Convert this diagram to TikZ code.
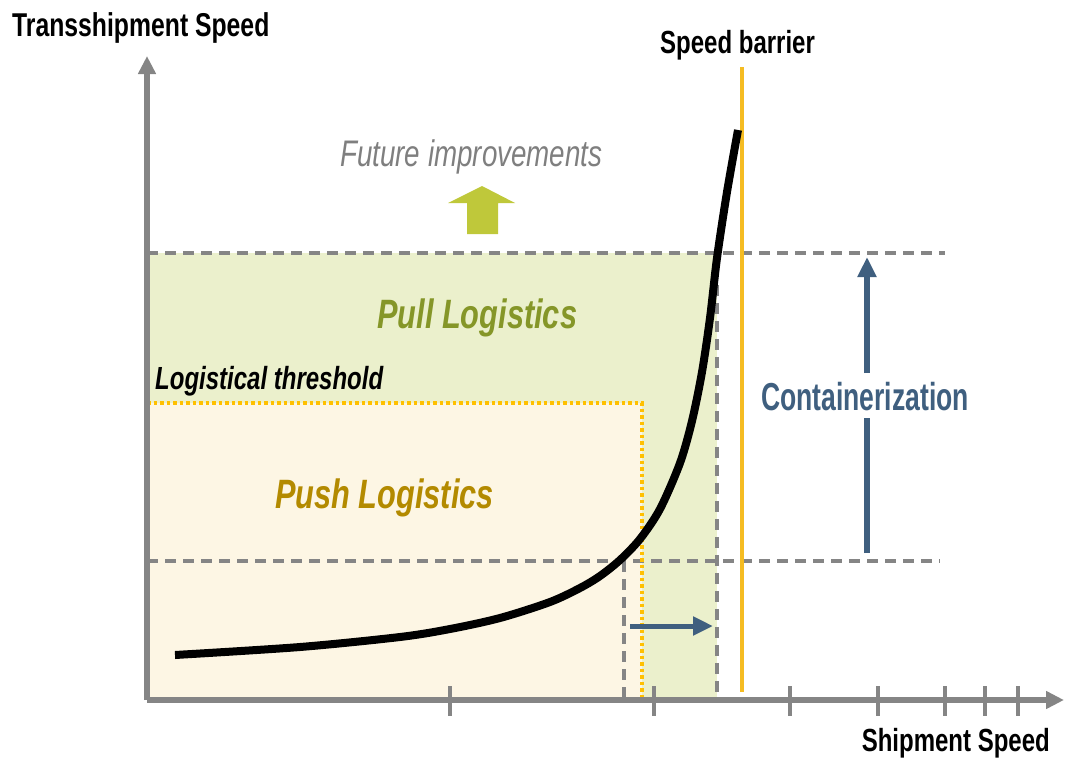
\documentclass[tikz,border=0pt]{standalone}
\usepackage{fontspec}
\usetikzlibrary{arrows.meta}
\newfontfamily\narrowsans[FakeStretch=0.75]{Liberation Sans}
\newfontfamily\narrowersans[FakeStretch=0.68]{Liberation Sans}
\definecolor{axisgray}{HTML}{858585}
\definecolor{pullfill}{HTML}{EBF0CC}
\definecolor{pushfill}{HTML}{FDF6E4}
\definecolor{barrier}{HTML}{F5BC22}
\definecolor{dotline}{HTML}{FFC000}
\definecolor{slate}{HTML}{3F5F7F}
\definecolor{lime}{HTML}{BFC83A}
\definecolor{pulltext}{HTML}{859628}
\definecolor{pushtext}{HTML}{B38A00}
\definecolor{futuretext}{HTML}{7F7F7F}
\tikzset{
  axis/.style={draw=axisgray, line width=5.5pt, -{Triangle[length=18pt,width=17pt]}},
  tick/.style={draw=axisgray, line width=4pt},
  guide/.style={draw=axisgray, line width=3.2pt, dash pattern=on 11pt off 7pt},
  threshold/.style={draw=dotline, line width=3.5pt, dash pattern=on 3.5pt off 3pt},
  bluearrow/.style={draw=slate, line width=5pt, -{Triangle[length=20pt,width=18pt]}},
  lbl/.style={inner sep=0pt, font=\narrowsans\bfseries},
}
\begin{document}
\begin{tikzpicture}[x=1pt, y=-1pt]
\useasboundingbox (0,0) rectangle (1070,760);

% shaded regions
\fill[pullfill] (147,253) rectangle (717,700);
\fill[pushfill] (147,403) rectangle (642,700);

% guide lines
\draw[guide] (147,253) -- (945,253);
\draw[guide] (147,561) -- (940,561);
\draw[guide] (717,285) -- (717,700);
\draw[guide] (624,561) -- (624,700);

% logistical threshold
\draw[threshold] (147,403) -- (642,403) -- (642,700);

% speed barrier
\draw[barrier, line width=3.5pt] (742,67) -- (742,692);

% axes
\coordinate (O) at (147,700);
\coordinate (ytip) at (147,56);
\coordinate (xtip) at (1064,700);
\foreach \t in {450,654,790,878,945,985,1018}
  \draw[tick] (\t,686) -- (\t,716);
\draw[axis] (O) -- (ytip);
\draw[axis] (O) -- (xtip);

% transshipment speed curve
\draw[line width=8pt, line join=round] plot[smooth, tension=0.5] coordinates {
  (175,655) (300,647) (400,637) (450,629) (500,618) (550,602) (580,588)
  (600,576) (620,560) (640,539) (660,509) (680,463) (692,421) (702,372)
  (710,318) (717,258) (727,192) (738,130)};

% shipment speed shift arrow
\coordinate (s1) at (630,626);
\coordinate (s2) at (713,626);
\draw[bluearrow] (s1) -- (s2);

% containerization arrow
\node[lbl, text=slate, font=\narrowersans\bfseries\fontsize{39}{39}\selectfont] (cont) at (865,397) {Containerization};
\coordinate (c0) at (867,553);
\coordinate (c1) at (867,418);
\coordinate (c2) at (867,373);
\coordinate (c3) at (867,257);
\draw[slate, line width=6pt] (c0) -- (c1);
\draw[bluearrow, line width=6pt] (c2) -- (c3);

% future improvements arrow
\fill[lime] (467,234) -- (467,203) -- (448,203) -- (482,186) -- (515,203)
  -- (498,203) -- (498,234) -- cycle;

% labels
\node[lbl, anchor=west, font=\narrowsans\bfseries\fontsize{33}{33}\selectfont] (yl) at (12,28) {Transshipment Speed};
\node[lbl, anchor=east, font=\narrowsans\bfseries\fontsize{32}{32}\selectfont] (xl) at (1050,743) {Shipment Speed};
\node[lbl, anchor=west, font=\narrowsans\bfseries\fontsize{32}{32}\selectfont] (sb) at (660,45) {Speed barrier};
\node[lbl, anchor=west, text=futuretext, font=\narrowsans\itshape\fontsize{37}{37}\selectfont] (fi) at (340,157) {Future improvements};
\node[lbl, anchor=west, text=pulltext, font=\narrowsans\bfseries\itshape\fontsize{41}{41}\selectfont] (pull) at (377,318) {Pull Logistics};
\node[lbl, anchor=west, font=\narrowsans\bfseries\itshape\fontsize{32}{32}\selectfont] (lt) at (155,381) {Logistical threshold};
\node[lbl, anchor=west, text=pushtext, font=\narrowsans\bfseries\itshape\fontsize{41}{41}\selectfont] (push) at (275,498) {Push Logistics};
\end{tikzpicture}
\end{document}
